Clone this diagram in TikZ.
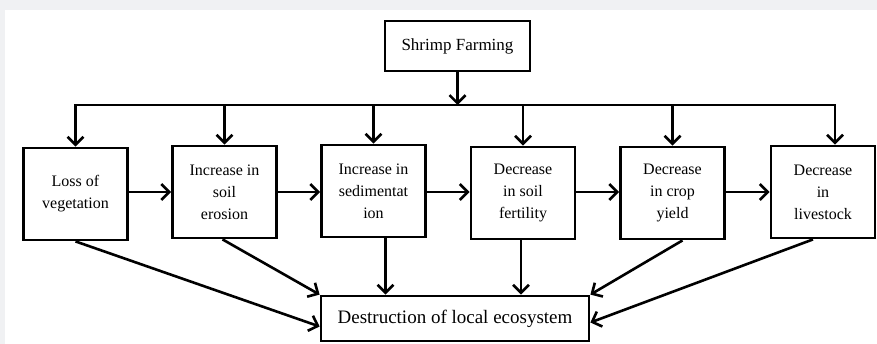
\documentclass[tikz,border=0pt]{standalone}
\usepackage{fontspec}
\setmainfont{Liberation Serif}
\usepackage{tikz}
\usetikzlibrary{arrows.meta, positioning, calc}
\usepackage{xcolor}
\definecolor{pagegray}{RGB}{240, 241, 243}

\begin{document}
\begin{tikzpicture}[
  x=1pt, y=-1pt,
  box/.style={rectangle, draw, line width=2.8pt, minimum width=104pt, minimum height=92pt, align=center, inner sep=2pt, font=\fontsize{16}{22}\selectfont},
  topbox/.style={box, minimum width=145pt, minimum height=50pt, font=\fontsize{17}{20}\selectfont},
  endbox/.style={box, minimum width=268pt, minimum height=45pt, font=\fontsize{19}{22}\selectfont},
  tip/.style={Straight Barb[length=8pt, width=16pt]},
  arr/.style={-{Straight Barb[length=8pt, width=16pt]}, line width=2.6pt},
]
  \useasboundingbox (0,0) rectangle (877,344);
  \fill[pagegray] (0,0) rectangle (877,344);
  \fill[white] (5,10) rectangle (877,344);

  \node[topbox] (shrimp) at (457.5,46) {Shrimp Farming};
  \node[box] (veg)  at (75.5,194)  {Loss of\\vegetation};
  \node[box] (ero)  at (224.5,192) {Increase in\\soil\\erosion};
  \node[box] (sed)  at (373.5,191) {Increase in\\sedimentat\\ion};
  \node[box] (fert) at (523,193)   {Decrease\\in soil\\fertility};
  \node[box] (crop) at (672.5,193) {Decrease\\in crop\\yield};
  \node[box] (live) at (823,192)   {Decrease\\in\\livestock};
  \node[endbox] (dest) at (455,318.5) {Destruction of local ecosystem};

  % distribution line
  \coordinate (bus) at (457.5,105);
  \draw[arr] (shrimp) -- (bus);
  \draw[{Straight Barb[length=8pt, width=16pt]}-{Straight Barb[length=8pt, width=16pt]}, line width=2.6pt]
    (veg.north) |- (bus) -| ([xshift=12pt]live.north);
  \foreach \n in {ero, sed, fert, crop}
    \draw[arr] (\n.north |- bus) -- (\n.north);

  % chain
  \coordinate (row) at (0,192);
  \foreach \a/\b in {veg/ero, ero/sed, sed/fert, fert/crop, crop/live}
    \draw[arr] (\a.east |- row) -- (\b.west |- row);

  % into the ecosystem
  \draw[arr] (veg.south) -- ([yshift=-8pt]dest.west);
  \draw[arr] ([xshift=-2pt]ero.south) -- (dest.north west);
  \draw[arr] ([xshift=12pt]sed.south) -- ([xshift=12pt]sed.south |- dest.north);
  \draw[arr] ([xshift=-2pt]fert.south) -- ([xshift=-2pt]fert.south |- dest.north);
  \draw[arr] ([xshift=10pt]crop.south) -- (dest.north east);
  \draw[arr] ([xshift=-10pt]live.south) -- ([yshift=-4pt]dest.east);
\end{tikzpicture}
\end{document}
